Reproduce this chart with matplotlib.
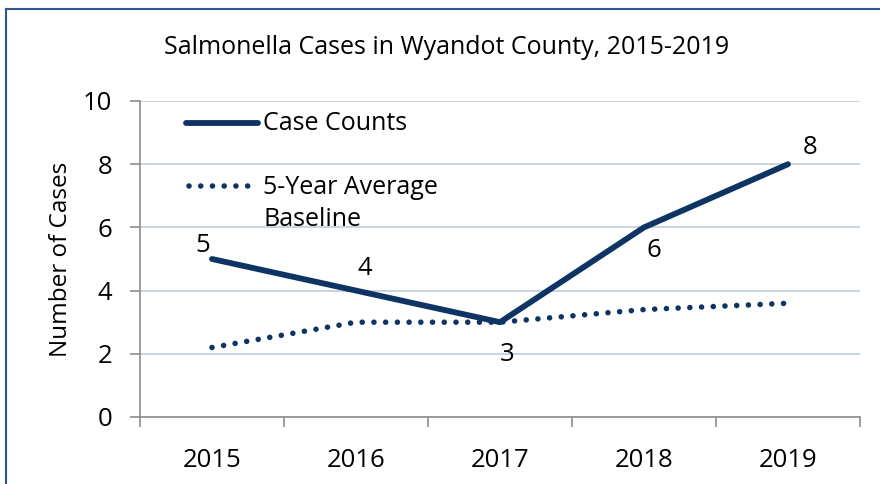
import matplotlib.pyplot as plt
from matplotlib.lines import Line2D

plt.rcParams['font.family'] = ['Open Sans', 'DejaVu Sans']

years = ['2015', '2016', '2017', '2018', '2019']
case_counts = [5, 4, 3, 6, 8]
baseline = [2.2, 3.0, 3.0, 3.4, 3.6]

navy = '#0d3463'
grid_col = '#c5d1da'
axis_col = '#8c8c8c'
dots = (0, (0.01, 2.1))

fig = plt.figure(figsize=(8.8, 4.84), dpi=100)
ax = fig.add_axes([140 / 880, 1 - 417 / 484, 720 / 880, 316 / 484])

x = list(range(len(years)))
ax.plot(x, case_counts, color=navy, lw=4.2, solid_capstyle='round', zorder=3)
ax.plot(x, baseline, color=navy, lw=4.0, linestyle=dots,
        dash_capstyle='round', zorder=3)

# data labels for case counts (offsets in points)
offsets = [(-6.5, 9.5), (6.5, 16), (5, -23), (7, -16.5), (16, 12)]
for xi, v, (dx, dy) in zip(x, case_counts, offsets):
    ax.annotate(str(v), (xi, v), xytext=(dx, dy), textcoords='offset points',
                ha='center', va='center', fontsize=18.5, color='black')

ax.set_xlim(-0.5, 4.5)
ax.set_ylim(0, 10)
ax.set_yticks([0, 2, 4, 6, 8, 10])
ax.set_xticks(x)
ax.set_xticklabels(years)
ax.set_xticks([-0.5, 0.5, 1.5, 2.5, 3.5, 4.5], minor=True)
ax.tick_params(axis='x', which='major', length=0, pad=22, labelsize=18.5)
ax.tick_params(axis='x', which='minor', length=7, width=1.2, color=axis_col, direction='out')
ax.tick_params(axis='y', length=7, width=1.2, color=axis_col, pad=13, labelsize=18.5)

ax.grid(axis='y', color=grid_col, lw=1.3, zorder=0)
ax.set_axisbelow(True)
for s in ['top', 'right']:
    ax.spines[s].set_visible(False)
for s in ['left', 'bottom']:
    ax.spines[s].set_color(axis_col)
    ax.spines[s].set_linewidth(1.2)

ax.set_ylabel('Number of Cases', fontsize=17.5)
ax.yaxis.set_label_coords(-0.093, 0.5)
fig.text(447 / 880, 1 - 48 / 484, 'Salmonella Cases in Wyandot County, 2015-2019',
         ha='center', va='center', fontsize=18)

# legend drawn by hand so the dotted key sits on the first text line
def px(xp, yp):
    return xp / 880, 1 - yp / 484

(x0, y0), (x1, _) = px(186, 123), px(258, 123)
fig.add_artist(Line2D([x0, x1], [y0, y0], color=navy, lw=4.2, solid_capstyle='round'))
(x0, y1), (x1, _) = px(189, 186), px(252, 186)
fig.add_artist(Line2D([x0, x1], [y1, y1], color=navy, lw=4.0, linestyle=dots,
                      dash_capstyle='round'))
fig.text(*px(263, 124), 'Case Counts', ha='left', va='center', fontsize=18)
fig.text(*px(263, 188), '5-Year Average', ha='left', va='center', fontsize=18)
fig.text(*px(263, 220), 'Baseline', ha='left', va='center', fontsize=18)

# outer frame (blue top and left edges)
fig.add_artist(Line2D([6 / 880, 1], [1 - 9 / 484, 1 - 9 / 484], color='#2f5597', lw=1.5))
fig.add_artist(Line2D([6 / 880, 6 / 880], [0, 1 - 9 / 484], color='#2f5597', lw=1.5))

fig.savefig('out.png', dpi=100)
